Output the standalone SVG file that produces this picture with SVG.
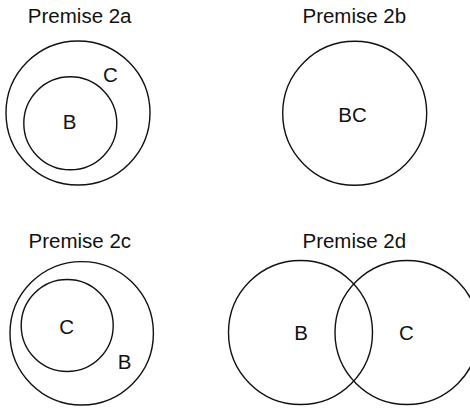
<svg xmlns="http://www.w3.org/2000/svg" width="470" height="408" viewBox="0 0 470 408">
<style>
.c{fill:none;stroke:#111;stroke-width:1.4}
.t{font-family:"Liberation Sans",Arial,Helvetica,sans-serif;font-size:20.5px;fill:#111;text-anchor:middle}
</style>
<rect width="470" height="408" fill="#fff"/>
<g id="premise-2a">
<text class="t" x="79.7" y="23.3">Premise 2a</text>
<g id="node-2a-C"><circle class="c" cx="78" cy="113" r="72"/><text class="t" x="110.3" y="81.7">C</text></g>
<g id="node-2a-B"><circle class="c" cx="70.3" cy="123.3" r="46.5"/><text class="t" x="69.5" y="129">B</text></g>
</g>
<g id="premise-2b">
<text class="t" x="354.3" y="23.3">Premise 2b</text>
<g id="node-2b-BC"><circle class="c" cx="354.7" cy="113.3" r="72"/><text class="t" x="352.5" y="122.3">BC</text></g>
</g>
<g id="premise-2c">
<text class="t" x="79.8" y="247.7">Premise 2c</text>
<g id="node-2c-B"><circle class="c" cx="81.7" cy="333.3" r="71.7"/><text class="t" x="124.5" y="369">B</text></g>
<g id="node-2c-C"><circle class="c" cx="67.2" cy="325.5" r="46"/><text class="t" x="66.7" y="333.5">C</text></g>
</g>
<g id="premise-2d">
<text class="t" x="354.3" y="247.7">Premise 2d</text>
<g id="node-2d-B"><circle class="c" cx="300.5" cy="332.5" r="72"/><text class="t" x="301" y="340">B</text></g>
<g id="node-2d-C"><circle class="c" cx="407" cy="332.5" r="72"/><text class="t" x="406.5" y="340">C</text></g>
</g>
<g id="connectors"/>
</svg>
